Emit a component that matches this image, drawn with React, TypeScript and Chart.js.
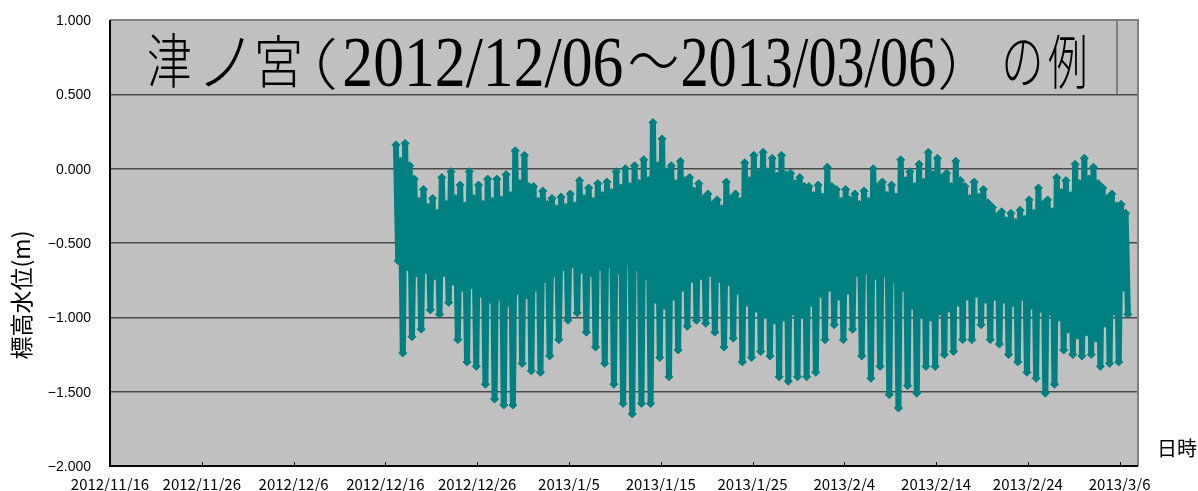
import React, { useEffect, useRef } from 'react';
import { Chart, registerables } from 'chart.js';

Chart.register(...registerables);

// x axis: days counted from 2012/11/16
const X_TICK_LABELS = [
  '2012/11/16', '2012/11/26', '2012/12/6', '2012/12/16', '2012/12/26', '2013/1/5',
  '2013/1/15', '2013/1/25', '2013/2/4', '2013/2/14', '2013/2/24', '2013/3/6',
];
const X_TICK_STEP = 10;
const X_MAX_DAY = 112; // 2013/3/8
const Y_TICK_VALUES = [1, 0.5, 0, -0.5, -1, -1.5, -2];
const Y_TICK_LABELS = ['1.000', '0.500', '0.000', '\u22120.500', '\u22121.000', '\u22121.500', '\u22122.000'];

// title "津ノ宮（2012/12/06～2013/03/06）の例", split into its glyph runs
const TITLE_PARTS = ['津', 'ノ', '宮', '（', '2012/12/06', '～', '2013/03/06', '）', 'の', '例'];
const Y_TITLE = '標高水位(m)';
const X_TITLE = '日時';

// Observations start 2012/12/17 (day 31) – one entry per day, four tide extremes a day
const FIRST_DAY = 31;
const EXTREME_TIMES = [0.15, 0.4, 0.65, 0.9]; // fraction of day: higher high, higher low, lower high, lower low

const HIGHER_HIGH = [
  0.16, 0.17, -0.07, -0.14, -0.20, -0.06, -0.02, -0.11, -0.02, -0.11,
  -0.07, -0.07, -0.04, 0.12, 0.09, -0.12, -0.15, -0.20, -0.19, -0.17,
  -0.08, -0.13, -0.10, -0.09, -0.02, 0.00, 0.02, 0.06, 0.31, 0.20,
  0.02, 0.05, -0.06, -0.10, -0.17, -0.21, -0.09, -0.17, 0.04, 0.09,
  0.11, 0.07, 0.09, -0.03, -0.06, -0.12, -0.11, 0.01, -0.14, -0.14,
  -0.17, -0.15, 0.00, -0.09, -0.11, 0.06, -0.02, 0.03, 0.11, 0.07,
  -0.03, 0.05, -0.12, -0.09, -0.14, -0.26, -0.29, -0.30, -0.28, -0.21,
  -0.13, -0.21, -0.06, -0.08, 0.03, 0.07, 0.01, -0.13, -0.17, -0.24,
];
const HIGHER_LOW = [
  -0.62, -0.66, -0.70, -0.68, -0.72, -0.70, -0.76, -0.80, -0.78, -0.84,
  -0.88, -0.86, -0.90, -0.82, -0.85, -0.80, -0.74, -0.70, -0.66, -0.64,
  -0.68, -0.70, -0.66, -0.64, -0.68, -0.62, -0.66, -0.72, -0.88, -0.92,
  -0.86, -0.80, -0.74, -0.72, -0.70, -0.74, -0.76, -0.82, -0.90, -0.94,
  -0.98, -1.02, -1.00, -0.96, -0.98, -0.90, -0.84, -0.80, -0.86, -0.82,
  -0.70, -0.68, -0.72, -0.70, -0.74, -0.80, -0.92, -0.98, -1.00, -0.96,
  -0.94, -0.90, -0.86, -0.84, -0.88, -0.86, -0.88, -0.90, -0.86, -0.92,
  -0.94, -0.96, -1.00, -1.08, -1.12, -1.10, -1.14, -1.04, -0.96, -0.80,
];
const LOWER_HIGH = [
  0.05, 0.02, -0.22, -0.26, -0.30, -0.24, -0.20, -0.25, -0.20, -0.24,
  -0.22, -0.21, -0.18, -0.10, -0.12, -0.22, -0.24, -0.27, -0.26, -0.25,
  -0.20, -0.22, -0.18, -0.16, -0.13, -0.12, -0.10, -0.08, 0.02, -0.02,
  -0.10, -0.08, -0.15, -0.20, -0.24, -0.27, -0.20, -0.22, -0.08, -0.03,
  -0.02, -0.05, -0.04, -0.10, -0.12, -0.18, -0.19, -0.12, -0.22, -0.21,
  -0.24, -0.22, -0.12, -0.18, -0.19, -0.08, -0.12, -0.09, -0.04, -0.06,
  -0.12, -0.08, -0.20, -0.19, -0.23, -0.32, -0.35, -0.36, -0.34, -0.30,
  -0.24, -0.29, -0.16, -0.18, -0.10, -0.07, -0.10, -0.20, -0.25, -0.30,
];
const LOWER_LOW = [
  -1.24, -1.13, -1.08, -0.95, -0.98, -0.90, -1.15, -1.30, -1.33, -1.45,
  -1.55, -1.59, -1.59, -1.31, -1.36, -1.37, -1.26, -1.15, -1.02, -0.97,
  -1.10, -1.20, -1.31, -1.45, -1.58, -1.65, -1.58, -1.58, -1.27, -1.40,
  -1.22, -1.06, -1.02, -1.04, -1.10, -1.20, -1.14, -1.30, -1.27, -1.23,
  -1.26, -1.40, -1.43, -1.40, -1.40, -1.37, -1.15, -1.05, -1.15, -1.08,
  -1.26, -1.41, -1.33, -1.52, -1.61, -1.46, -1.51, -1.33, -1.33, -1.25,
  -1.23, -1.15, -1.15, -1.05, -1.15, -1.18, -1.25, -1.30, -1.37, -1.41,
  -1.51, -1.45, -1.22, -1.25, -1.26, -1.25, -1.33, -1.31, -1.30, -0.98,
];

const TEAL = '#008080';
const PLOT_BG = '#C0C0C0';
const CJK_TITLE_FONT = "300 46px 'Noto Sans CJK JP', sans-serif";
const SERIF_TITLE_FONT = "46px 'Liberation Serif', serif";
// ink boxes [left, right, top, bottom] of each title run, in pixels
const TITLE_BOXES = [
  [148, 190, 33, 89], [205, 245, 38, 87], [258, 300, 36, 89], [318, 335, 38, 91],
  [345, 622, 38, 86], [630, 677, 53, 69], [683, 935, 38, 86], [940, 955, 38, 91],
  [1005, 1040, 40, 87], [1048, 1085, 33, 90],
];

function buildPoints() {
  const pts: { x: number; y: number }[] = [];
  for (let i = 0; i < HIGHER_HIGH.length; i++) {
    const series = [HIGHER_HIGH[i], HIGHER_LOW[i], LOWER_HIGH[i], LOWER_LOW[i]];
    for (let k = 0; k < 4; k++) {
      pts.push({ x: FIRST_DAY + i + EXTREME_TIMES[k], y: series[k] });
    }
  }
  return pts;
}

function drawFitted(ctx: CanvasRenderingContext2D, text: string, font: string, box: number[]) {
  const [l, r, t, b] = box;
  ctx.save();
  ctx.font = font;
  ctx.textAlign = 'left';
  ctx.textBaseline = 'alphabetic';
  const m = ctx.measureText(text);
  const inkW = m.actualBoundingBoxLeft + m.actualBoundingBoxRight || 1;
  const inkH = m.actualBoundingBoxAscent + m.actualBoundingBoxDescent || 1;
  ctx.translate(l, t);
  ctx.scale((r - l) / inkW, (b - t) / inkH);
  ctx.fillText(text, m.actualBoundingBoxLeft, m.actualBoundingBoxAscent);
  ctx.restore();
}

const decorPlugin = {
  id: 'decor',
  beforeDraw(chart: any) {
    const { ctx, chartArea: a } = chart;
    ctx.save();
    ctx.fillStyle = '#ffffff';
    ctx.fillRect(0, 0, chart.width, chart.height);
    ctx.fillStyle = PLOT_BG;
    ctx.fillRect(a.left, a.top, a.right - a.left, a.bottom - a.top);
    ctx.restore();
  },
  afterDraw(chart: any) {
    const { ctx, chartArea: a, scales } = chart;
    const ys = scales.y;
    const xs = scales.x;
    ctx.save();

    // title box (upper band of the plot)
    const boxBottom = ys.getPixelForValue(0.5);
    ctx.strokeStyle = '#6a6a6a';
    ctx.lineWidth = 1.5;
    ctx.beginPath();
    ctx.moveTo(1117, a.top);
    ctx.lineTo(1117, boxBottom);
    ctx.stroke();

    // title text
    ctx.fillStyle = '#000';
    TITLE_PARTS.forEach((part, i) => {
      const isSerif = /^[0-9/]+$/.test(part);
      drawFitted(ctx, part, isSerif ? SERIF_TITLE_FONT : CJK_TITLE_FONT, TITLE_BOXES[i]);
    });

    // frame
    ctx.lineWidth = 2;
    ctx.strokeStyle = '#808080';
    ctx.beginPath();
    ctx.moveTo(a.left, a.top);
    ctx.lineTo(a.right, a.top);
    ctx.lineTo(a.right, a.bottom);
    ctx.stroke();
    ctx.strokeStyle = '#000';
    ctx.beginPath();
    ctx.moveTo(a.left, a.top);
    ctx.lineTo(a.left, a.bottom);
    ctx.lineTo(a.right, a.bottom);
    ctx.stroke();

    // inward x tick marks + x tick labels
    ctx.lineWidth = 1;
    ctx.beginPath();
    for (let i = 0; i < X_TICK_LABELS.length; i++) {
      const px = Math.round(xs.getPixelForValue(i * X_TICK_STEP)) + 0.5;
      ctx.moveTo(px, a.bottom);
      ctx.lineTo(px, a.bottom - 4);
    }
    ctx.stroke();
    ctx.fillStyle = '#000';
    ctx.font = "15px 'Noto Sans CJK JP', sans-serif";
    ctx.textAlign = 'center';
    ctx.textBaseline = 'middle';
    X_TICK_LABELS.forEach((lab, i) => {
      ctx.fillText(lab, xs.getPixelForValue(i * X_TICK_STEP), 484);
    });

    // y tick labels
    ctx.font = "14px 'Liberation Sans', Arial, sans-serif";
    ctx.textAlign = 'right';
    ctx.textBaseline = 'middle';
    Y_TICK_VALUES.forEach((v, i) => {
      ctx.fillText(Y_TICK_LABELS[i], 91, ys.getPixelForValue(v) + 1);
    });

    // y axis title
    ctx.save();
    ctx.translate(21, 295);
    ctx.rotate(-Math.PI / 2);
    ctx.font = "23px 'Noto Sans CJK JP', sans-serif";
    ctx.textAlign = 'center';
    ctx.textBaseline = 'middle';
    ctx.fillText(Y_TITLE, 0, 0);
    ctx.restore();

    // x axis title
    ctx.font = "20px 'Noto Sans CJK JP', sans-serif";
    ctx.textAlign = 'left';
    ctx.textBaseline = 'middle';
    ctx.fillText(X_TITLE, 1157, 448);

    ctx.restore();
  },
};

export default function App() {
  const ref = useRef<HTMLCanvasElement>(null);

  useEffect(() => {
    if (!ref.current) return;
    const chart = new Chart(ref.current, {
      type: 'line',
      data: {
        datasets: [
          {
            data: buildPoints(),
            borderColor: TEAL,
            backgroundColor: TEAL,
            borderWidth: 6,
            borderJoinStyle: 'bevel',
            pointStyle: 'rectRot',
            pointRadius: 4,
            pointBorderWidth: 1,
            pointBorderColor: TEAL,
            pointBackgroundColor: TEAL,
            tension: 0,
            fill: false,
          },
        ],
      },
      options: {
        animation: false,
        responsive: false,
        devicePixelRatio: 1,
        layout: { padding: { top: 20, right: 60, left: 0, bottom: 0 } },
        plugins: { legend: { display: false }, tooltip: { enabled: false }, title: { display: false } },
        scales: {
          x: {
            type: 'linear',
            min: 0,
            max: X_MAX_DAY,
            afterBuildTicks: (s: any) => {
              s.ticks = X_TICK_LABELS.map((_, i) => ({ value: i * X_TICK_STEP }));
            },
            afterFit: (s: any) => {
              s.height = 25;
            },
            grid: { display: false, drawTicks: false },
            border: { display: false },
            ticks: { display: false },
          },
          y: {
            type: 'linear',
            min: -2,
            max: 1,
            afterBuildTicks: (s: any) => {
              s.ticks = Y_TICK_VALUES.map((v) => ({ value: v }));
            },
            afterFit: (s: any) => {
              s.width = 110;
            },
            grid: { color: '#4a4a4a', lineWidth: 1.5, drawTicks: false },
            border: { display: false },
            ticks: { display: false },
          },
        },
      },
      plugins: [decorPlugin],
    } as any);
    return () => chart.destroy();
  }, []);

  return (
    <div style={{ position: 'fixed', left: 0, top: 0, width: 1198, height: 491, background: '#fff' }}>
      <canvas ref={ref} width={1198} height={491} />
    </div>
  );
}
